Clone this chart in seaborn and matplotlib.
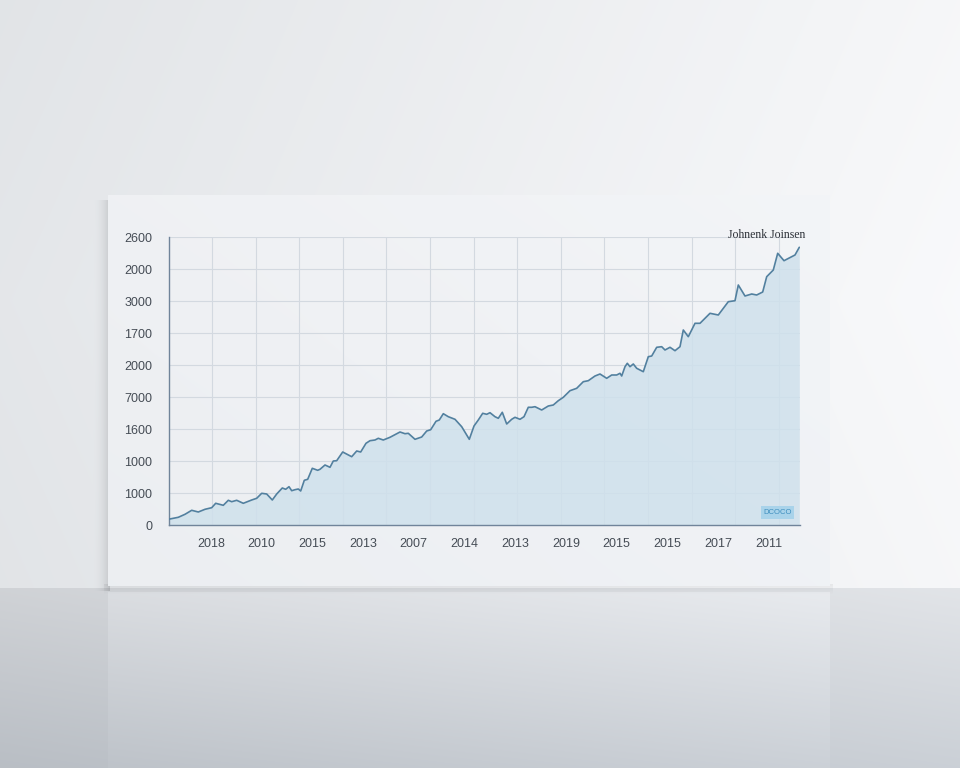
import numpy as np
import matplotlib
matplotlib.use("Agg")
import matplotlib.pyplot as plt
import seaborn as sns
import pandas as pd

# ---------------- data ----------------
x_px = [168.3, 178.3, 185, 191.7, 198.3, 205, 211.7, 215.7, 223.3, 228.3, 231.7, 236.7,
        243.3, 251.7, 256.7, 261.7, 266.7, 272.3, 276.7, 282.3, 285.7, 289, 291.7, 295,
        298.3, 300.7, 304.3, 307.7, 312.3, 317.7, 320, 325, 330, 333.3, 336.7, 342.7,
        351.7, 356.7, 360.7, 366, 370, 375, 378.3, 383.3, 390, 400, 405, 408.3, 415,
        421.7, 426.7, 430.7, 436, 439.3, 443.3, 448.3, 455, 461.7, 469.3, 474, 478.3,
        482.7, 486.7, 490, 495, 498.3, 502.3, 506.7, 511.7, 515, 520, 524, 528.3, 531.7,
        535, 541.7, 548.3, 553.3, 558.3, 563.3, 570, 576.7, 583.3, 588.3, 595, 600,
        606.7, 611.7, 616.7, 620, 621.7, 625, 627.3, 630, 633.3, 636.7, 643.3, 648.3,
        651.7, 656.7, 661.7, 665, 670, 675, 680, 683.3, 688.3, 695, 700, 703.3, 710,
        718.3, 728.3, 735, 738.3, 745, 751.7, 756.7, 762.7, 766.7, 773.3, 777.7, 784,
        791.7, 795, 799.3]
y_px = [519.3, 517.3, 514.3, 510.3, 512, 509.3, 507.7, 503.3, 505.3, 500.3, 501.7, 500.3,
        503.3, 500, 498.3, 493.3, 494, 500, 494, 488, 489.3, 486.7, 490.7, 489.7,
        489, 491, 480.3, 479.3, 468.3, 470.3, 469.3, 465, 467.3, 461, 460.7, 452,
        456.7, 451, 452, 443.3, 440.7, 440, 438.3, 440, 437.3, 432, 433.7, 433.3, 439.3,
        437, 431, 429.7, 421.3, 420, 413.7, 416.7, 419.3, 426.7, 439.3, 426, 420,
        413.3, 414.3, 412.7, 416.7, 418.3, 412.3, 424, 419.3, 417.3, 419.3, 416.7, 407.3, 407.3,
        406.7, 410, 406, 405, 400.7, 397.3, 390.7, 388.3, 381.7, 380.7, 376, 374,
        378.3, 375, 375, 373.3, 376, 366.7, 363.3, 366.7, 364, 368.3, 371.7, 356.7,
        356, 347.3, 346.7, 350, 347.3, 350.7, 346.7, 330, 336.7, 323.3, 323.3, 320, 313.3,
        315, 301.7, 300.7, 285, 296, 294, 295, 292, 276.7, 270, 253.3, 260.7,
        256.7, 255, 247.3]

# chart units: x 0..100 across the plot, y in grid steps (0..9)
x_vals = [(p - 169.0) / 6.31 for p in x_px]
y_vals = [(525.3 - p) / 32.0 for p in y_px]

y_tick_labels = ["0", "1000", "1000", "1600", "7000", "2000", "1700", "3000", "2000", "2600"]
x_tick_labels = ["2018", "2010", "2015", "2013", "2007", "2014", "2013", "2019",
                 "2015", "2015", "2017", "2011"]
title_text = "Johnenk Joinsen"
badge_text = "DCOCO"

df = pd.DataFrame({"x": x_vals, "y": y_vals})

# ---------------- figure & background scene ----------------
W, H = 960, 768
sns.set_style("white")
fig = plt.figure(figsize=(W / 100, H / 100), dpi=100)

yy, xx = np.mgrid[0:H, 0:W].astype(float)
tx = xx / W
left_c = np.array([0.875, 0.885, 0.897])
right_c = np.array([0.955, 0.958, 0.965])
wall = left_c[None, None, :] * (1 - tx[..., None]) + right_c[None, None, :] * tx[..., None]
wall = wall + (1 - np.abs(yy - 300) / 600.0)[..., None] * 0.02
floor_top = 588
tf = np.clip((yy - floor_top) / (H - floor_top), 0, 1)[..., None]
floor = (np.array([0.85, 0.86, 0.875]) * (1 - tf) + np.array([0.76, 0.78, 0.805]) * tf)
floor = floor + (tx[..., None] - 0.5) * 0.07
is_floor = (yy >= floor_top)[..., None]
img = np.where(is_floor, floor, wall)
# reflection of the board
refl = (xx >= 108) & (xx <= 829) & (yy >= 592)
rf = np.clip(1 - (yy - 592) / 260.0, 0.2, 1)
img[refl] += (0.035 * rf[refl])[:, None]
# shadow on left side of board
sh = (xx >= 92) & (xx < 110) & (yy >= 200) & (yy <= 590)
sw = ((xx - 92) / 18.0) ** 2
img[sh] -= (0.13 * sw[sh])[:, None]
# shadow under board
sb = (xx >= 104) & (xx <= 832) & (yy >= 584) & (yy <= 594)
img[sb] -= (0.05 * (1 - (yy[sb] - 584) / 10.0))[:, None]
# board
bd = (xx >= 108) & (xx <= 829) & (yy >= 195) & (yy <= 585)
bt = (yy - 195) / 390.0
board = np.stack([0.945 - 0.012 * bt, 0.952 - 0.010 * bt, 0.963 - 0.008 * bt], axis=-1)
board = board + (tx[..., None] - 0.5) * 0.02
img[bd] = board[bd]
img = np.clip(img, 0, 1)

bg = fig.add_axes([0, 0, 1, 1], zorder=-10)
bg.imshow(img, aspect="auto", interpolation="bilinear")
bg.set_axis_off()

# ---------------- chart ----------------
ax = fig.add_axes([169 / W, 1 - 525.3 / H, 631 / W, (525.3 - 237.3) / H])
ax.patch.set_alpha(0)

ax.set_xlim(0, 100)
ax.set_ylim(0, 9)

grid_c = "#d3d9e0"
for k in range(14):
    gx = (212 - 169) / 6.31 + k * 43.6 / 6.31
    if gx < 100:
        ax.axvline(gx, color=grid_c, lw=0.8, zorder=0)
for k in range(1, 10):
    ax.axhline(k, color=grid_c, lw=0.8, zorder=0)

ax.fill_between(df["x"], df["y"], 0, color="#cfe1ec", alpha=0.85, lw=0, zorder=1)
sns.lineplot(data=df, x="x", y="y", ax=ax, color="#52809f", lw=1.2, zorder=3,
             estimator=None, sort=False)

ax.set_yticks(range(10))
ax.set_yticklabels(y_tick_labels)
xt = [(211 - 169) / 6.31 + k * 50.7 / 6.31 for k in range(len(x_tick_labels))]
ax.set_xticks(xt)
ax.set_xticklabels(x_tick_labels)
ax.set_xlabel("")
ax.set_ylabel("")

for s in ["top", "right"]:
    ax.spines[s].set_visible(False)
for s in ["left", "bottom"]:
    ax.spines[s].set_color("#70849a")
    ax.spines[s].set_linewidth(1.0)

ax.tick_params(axis="both", colors="#70849a", labelcolor="#454c55", labelsize=9,
               length=3, width=0.8)
ax.tick_params(axis="y", pad=9)
ax.tick_params(axis="x", pad=6)
for lab in ax.get_xticklabels() + ax.get_yticklabels():
    lab.set_family("Liberation Sans")

fig.text(805 / W, 1 - 235 / H, title_text, ha="right", va="center", fontsize=8.5,
         color="#2b2f36", family="Liberation Serif")

ax.text(0.987, 0.045, badge_text, transform=ax.transAxes, ha="right", va="center",
        fontsize=5.5, color="#3f8fbf", family="Liberation Sans",
        bbox=dict(boxstyle="square,pad=0.35", fc="#a9d3ea", ec="none"))

fig.savefig("out.png", dpi=100)
